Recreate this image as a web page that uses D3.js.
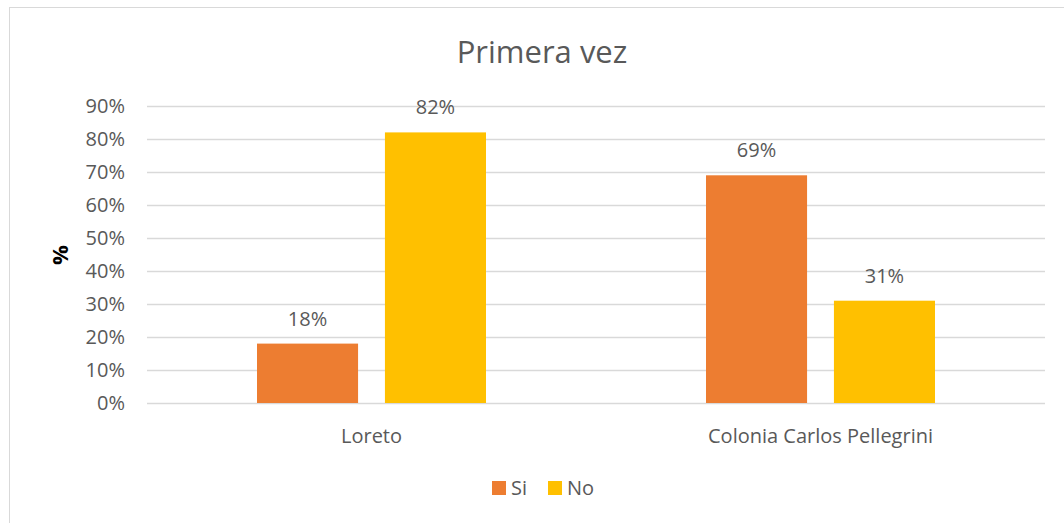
<!DOCTYPE html>
<html>
<head>
<meta charset="utf-8">
<script src="https://cdn.jsdelivr.net/npm/d3@7"></script>
<style>
body { margin: 0; background: #fff; }
text { font-family: "Open Sans", sans-serif; fill: #595959; }
</style>
</head>
<body>
<svg width="1064" height="523"></svg>
<script>
var categories = ['Loreto', 'Colonia Carlos Pellegrini'];
var series = ['Si', 'No'];
var si_values = [0.18, 0.69];
var no_values = [0.82, 0.31];
var ticks = [0, 0.1, 0.2, 0.3, 0.4, 0.5, 0.6, 0.7, 0.8, 0.9];
var colors = ['#ED7D31', '#FFC000'];

var svg = d3.select('svg');
var margin = {left:147,right:19,top:106,bottom:120};
var width = +svg.attr('width'), height = +svg.attr('height');
var innerwidth = width - margin.left - margin.right;
var innerheight = 403 - margin.top;

var data = categories.map((c, i) => ({cat: c, vals: [si_values[i], no_values[i]]}));

// frame
svg.append('rect').attr('x', 9.5).attr('y', 7.5).attr('width', 1070).attr('height', 530)
	.attr('fill', 'none').attr('stroke', '#d9d9d9');

svg.append('text').attr('x', 542).attr('y', 63).attr('text-anchor', 'middle')
	.style('font-size', '31px').text('Primera vez');

var xscale = d3.scaleBand().domain(categories).range([0, innerwidth]).padding(0);
var x1 = d3.scaleBand().domain(series)
	.range([110, 339]).paddingInner(0.21).paddingOuter(0);
var yscale = d3.scaleLinear().domain([0, 0.9]).range([innerheight, 0]);

var g = svg.append('g').attr('transform', `translate(${margin.left},${margin.top})`);

var grid = g.append('g').call(d3.axisLeft(yscale).tickValues(ticks)
	.tickSize(-innerwidth).tickFormat(d3.format('.0%')).tickPadding(22));
grid.select('.domain').remove();
grid.selectAll('line').attr('stroke', '#d9d9d9').attr('stroke-width', 1.3);
grid.selectAll('text').style('font-size', '20px').attr('fill', '#595959');

var groups = g.selectAll('.grp').data(data).enter().append('g')
	.attr('transform', d => `translate(${xscale(d.cat)},0)`);

groups.selectAll('rect').data(d => d.vals).enter().append('rect')
	.attr('x', (d, i) => x1(series[i]))
	.attr('y', d => yscale(d))
	.attr('width', x1.bandwidth())
	.attr('height', d => innerheight - yscale(d))
	.attr('fill', (d, i) => colors[i]);

groups.selectAll('.lbl').data(d => d.vals).enter().append('text')
	.attr('x', (d, i) => x1(series[i]) + x1.bandwidth() / 2)
	.attr('y', d => yscale(d) - 18)
	.attr('text-anchor', 'middle').style('font-size', '20px')
	.text(d => d3.format('.0%')(d));

var xaxis = g.append('g').attr('transform', `translate(0,${innerheight})`)
	.call(d3.axisBottom(xscale).tickSize(0).tickPadding(26));
xaxis.select('.domain').remove();
xaxis.selectAll('text').style('font-size', '20px').attr('fill', '#595959');

svg.append('text').attr('transform', 'translate(68,255) rotate(-90)')
	.attr('text-anchor', 'middle').style('font-size', '22px').style('font-weight', 'bold')
	.style('fill', '#000').text('%');

// legend
var legx = [492, 548];
var leg = svg.append('g');
series.forEach(function(s, i) {
	leg.append('rect').attr('x', legx[i]).attr('y', 481).attr('width', 14).attr('height', 14).attr('fill', colors[i]);
	leg.append('text').attr('x', legx[i] + 19).attr('y', 495).style('font-size', '20px').text(s);
});
</script>
</body>
</html>
